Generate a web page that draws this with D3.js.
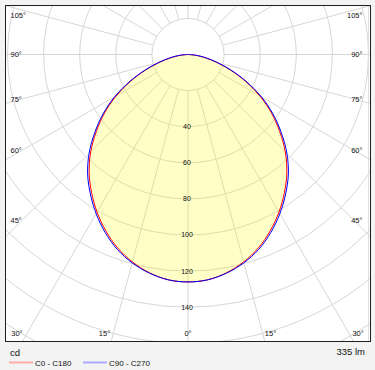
<!DOCTYPE html>
<html>
<head>
<meta charset="utf-8">
<script src="https://cdn.jsdelivr.net/npm/d3@7"></script>
<style>
  html, body { margin: 0; padding: 0; background: #f3f3f3; }
  svg { display: block; font-family: "Liberation Sans", Arial, sans-serif; }
</style>
</head>
<body>
<svg id="chart" width="375" height="370"></svg>
<script>
// ---- data ----
const gammaAngles = [0, 5, 10, 15, 20, 25, 30, 35, 40, 45, 50, 55, 60, 65, 70, 75, 80, 85, 90];
const c0c180  = [126, 125.3, 122.8, 119, 114, 107.8, 100.8, 93.2, 85.2, 76.2, 66.3, 56.4, 46, 35.2, 24.8, 15.9, 9, 3.7, 0];
const c90c270 = [126, 125.3, 123, 119.5, 114.8, 108.7, 101.8, 94.3, 86.5, 77.5, 67.5, 57.5, 47, 36, 25.5, 16.5, 9.5, 4, 0];
const ringValues = [20, 40, 60, 80, 100, 120, 140, 160, 180, 200];
const ringLabels = [40, 60, 80, 100, 120, 140];
const rayAngles = [0, 15, 30, 45, 60, 75, 90, 105, 120, 135, 150, 165, 180];
const sideLabelAngles = [45, 60, 75, 90, 105];
const bottomLabelAngles = [0, 15, 30];
const seriesNames = ["C0 - C180", "C90 - C270"];
const unitLabel = "cd";
const fluxLabel = "335 lm";

// ---- layout ----
const svg = d3.select("#chart");
const frame = { x: 5.5, y: 5.5, w: 365, h: 336 };
const cx = frame.x + frame.w / 2;
const cy = 54.5;
const r = d3.scaleLinear().domain([0, 20]).range([0, 36.1]);
const rad = d => d * Math.PI / 180;

// frame background
svg.append("rect").attr("x", frame.x).attr("y", frame.y).attr("width", frame.w).attr("height", frame.h)
  .attr("fill", "#ffffff");

svg.append("defs").append("clipPath").attr("id", "clip")
  .append("rect").attr("x", frame.x).attr("y", frame.y).attr("width", frame.w).attr("height", frame.h);

const plot = svg.append("g").attr("clip-path", "url(#clip)");
const g = plot.append("g").attr("transform", `translate(${cx},${cy})`);

// rings
g.selectAll("circle.ring").data(ringValues).join("circle")
  .attr("class", "ring").attr("r", d => r(d))
  .attr("fill", "none").attr("stroke", "#d6d6d6").attr("stroke-width", 1);

// rays (from the 20 cd ring outward), both sides
const rayData = [];
rayAngles.forEach(a => { rayData.push(a); if (a > 0 && a < 180) rayData.push(-a); });
g.selectAll("line.ray").data(rayData).join("line")
  .attr("class", "ray")
  .attr("x1", d => r(20) * Math.sin(rad(d)))
  .attr("y1", d => r(20) * Math.cos(rad(d)))
  .attr("x2", d => r(220) * Math.sin(rad(d)))
  .attr("y2", d => r(220) * Math.cos(rad(d)))
  .attr("stroke", "#d6d6d6").attr("stroke-width", 1);

// curve builder: left half (C180 / C270) then right half (C0 / C90)
function curvePoints(vals) {
  const pts = [];
  for (let i = gammaAngles.length - 1; i >= 0; i--) pts.push([Math.PI + rad(gammaAngles[i]), r(vals[i])]);
  for (let i = 1; i < gammaAngles.length; i++) pts.push([Math.PI - rad(gammaAngles[i]), r(vals[i])]);
  return pts;
}
const radial = d3.lineRadial().angle(d => d[0]).radius(d => d[1]).curve(d3.curveCatmullRom);

// fill
g.append("path").attr("d", radial(curvePoints(c0c180)) + "Z")
  .attr("fill", "rgba(255,250,0,0.22)").attr("stroke", "none");

// ring labels along the 0° ray
g.selectAll("text.rl").data(ringLabels).join("text")
  .attr("class", "rl")
  .attr("x", -1).attr("y", d => r(d)).attr("dy", "0.35em")
  .attr("text-anchor", "middle").attr("font-size", 7).attr("fill", "#111")
  .text(d => d);

// curves
g.append("path").attr("d", radial(curvePoints(c0c180)))
  .attr("fill", "none").attr("stroke", "#ff0000").attr("stroke-width", 1);
g.append("path").attr("d", radial(curvePoints(c90c270)))
  .attr("fill", "none").attr("stroke", "#0000ff").attr("stroke-width", 1);

// angle labels on the sides
const sideDx = 166;
const sideLab = svg.append("g").attr("font-size", 7.5).attr("fill", "#111");
sideLabelAngles.forEach(a => {
  let y = cy + sideDx * Math.cos(rad(a)) / Math.sin(rad(a));
  y = Math.max(y, frame.y + 9.5);
  sideLab.append("text").attr("x", frame.x + 5).attr("y", y).attr("dy", "0.35em")
    .attr("text-anchor", "start").text(a + "°");
  sideLab.append("text").attr("x", frame.x + frame.w - 8).attr("y", y).attr("dy", "0.35em")
    .attr("text-anchor", "end").text(a + "°");
});
// angle labels at the bottom
const bottomD = 283;
const bottomBase = 335.5;
bottomLabelAngles.forEach(a => {
  const dx = bottomD * Math.tan(rad(a));
  if (a === 0) {
    sideLab.append("text").attr("x", cx).attr("y", bottomBase).attr("text-anchor", "middle").text(a + "°");
  } else {
    sideLab.append("text").attr("x", cx - dx - 2).attr("y", bottomBase).attr("text-anchor", "end").text(a + "°");
    sideLab.append("text").attr("x", cx + dx + 1).attr("y", bottomBase).attr("text-anchor", "start").text(a + "°");
  }
});

// faint inner right line
svg.append("line").attr("x1", frame.x + frame.w - 2).attr("x2", frame.x + frame.w - 2)
  .attr("y1", frame.y).attr("y2", frame.y + frame.h).attr("stroke", "#dedede").attr("stroke-width", 1);

// frame border
svg.append("rect").attr("x", frame.x).attr("y", frame.y).attr("width", frame.w).attr("height", frame.h)
  .attr("fill", "none").attr("stroke", "#1e1e1e").attr("stroke-width", 1);

// bottom texts
svg.append("text").attr("x", 10).attr("y", 355.5).attr("font-size", 9.5).attr("fill", "#111").text(unitLabel);
svg.append("text").attr("x", 365).attr("y", 354.5).attr("font-size", 9.5).attr("fill", "#111")
  .attr("text-anchor", "end").text(fluxLabel);

// legend
const legendColors = ["#ffaaaa", "#aaaaff"];
const legendX = [9, 83];
seriesNames.forEach((name, i) => {
  svg.append("line").attr("x1", legendX[i]).attr("x2", legendX[i] + 24)
    .attr("y1", 362.5).attr("y2", 362.5).attr("stroke", legendColors[i]).attr("stroke-width", 2);
  svg.append("text").attr("x", legendX[i] + 26).attr("y", 365.5).attr("font-size", 8).attr("fill", "#111").text(name);
});
</script>
</body>
</html>
